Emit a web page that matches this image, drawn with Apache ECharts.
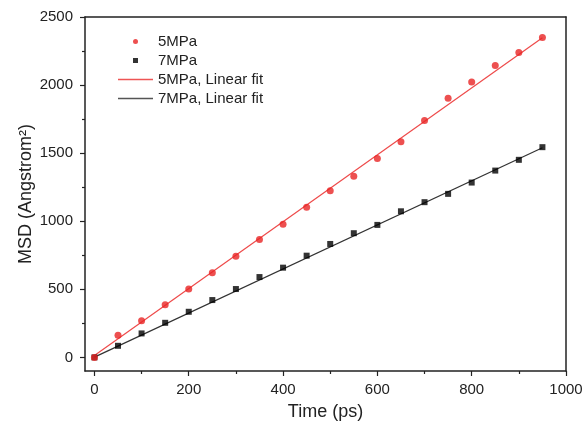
<!DOCTYPE html>
<html>
<head>
<meta charset="utf-8">
<script src="https://cdn.jsdelivr.net/npm/echarts@6/dist/echarts.min.js"></script>
<style>html,body{margin:0;padding:0;background:#fff;}#c{width:583px;height:423px;}</style>
</head>
<body>
<div id="c"></div>
<script>
var times = [0,50,100,150,200,250,300,350,400,450,500,550,600,650,700,750,800,850,900,950];
var msd5 = [0,162,269,387,502,622,743,865,978,1103,1223,1331,1460,1583,1740,1904,2022,2144,2240,2350];
var msd7 = [0,85,176,254,335,421,502,590,659,747,833,912,973,1073,1140,1201,1284,1372,1451,1544];
var fitT = [0,950];
var fit5 = [14,2348];
var fit7 = [2,1540];
var xTicks = [0,200,400,600,800,1000];
var xMinor = [100,300,500,700,900];
var yTicks = [0,500,1000,1500,2000,2500];
var yMinor = [250,750,1250,1750,2250];

function pairs(xs, ys){ return xs.map(function(x,i){ return [x, ys[i]]; }); }
function plain(v){ return String(v); }

var font = 'Liberation Sans, Arial, sans-serif';
var axisColor = '#222';
var red = '#e82424';
var redLine = '#ee4a4a';
var chart = echarts.init(document.getElementById('c'));
chart.setOption({
  animation: false,
  backgroundColor: '#fff',
  grid: {left: 85, top: 17, right: 17, bottom: 52, outerBoundsMode: 'none', containLabel: false},
  legend: {
    orient: 'vertical', left: 113, top: 29,
    itemWidth: 35, itemHeight: 5, itemGap: 4,
    textStyle: {fontFamily: font, fontSize: 15, color: '#222'},
    data: [
      {name: '5MPa', icon: 'circle', itemStyle: {color: red}},
      {name: '7MPa', icon: 'path://M0,0H10V10H0Z', itemStyle: {color: '#000'}},
      {name: '5MPa, Linear fit', icon: 'path://M0,0H35V1.5H0Z',
       itemStyle: {color: '#ee5555', borderWidth: 0}, lineStyle: {color: '#ee5555'}},
      {name: '7MPa, Linear fit', icon: 'path://M0,0H35V1.5H0Z',
       itemStyle: {color: '#555', borderWidth: 0}, lineStyle: {color: '#555'}}
    ]
  },
  xAxis: [
    {type: 'value', min: -20, max: 1000, position: 'bottom',
     name: 'Time (ps)', nameLocation: 'middle', nameGap: 32,
     nameTextStyle: {fontFamily: font, fontSize: 18, color: axisColor},
     axisLine: {show: true, onZero: false, lineStyle: {color: axisColor, width: 1.5}},
     axisTick: {show: true, inside: false, length: 5, customValues: xTicks, lineStyle: {color: axisColor, width: 1.2}},
     axisLabel: {customValues: xTicks, formatter: plain, margin: 11, fontFamily: font, fontSize: 15, color: axisColor},
     splitLine: {show: false}},
    {type: 'value', min: -20, max: 1000, position: 'bottom',
     axisLine: {show: false, onZero: false},
     axisTick: {show: true, length: 3, customValues: xMinor, lineStyle: {color: axisColor, width: 1.2}},
     axisLabel: {show: false}, splitLine: {show: false}},
    {type: 'value', min: -20, max: 1000, position: 'top',
     axisLine: {show: true, onZero: false, lineStyle: {color: axisColor, width: 1.5}},
     axisTick: {show: false}, axisLabel: {show: false}, splitLine: {show: false}}
  ],
  yAxis: [
    {type: 'value', min: -100, max: 2500, position: 'left',
     name: 'MSD (Angstrom²)', nameLocation: 'middle', nameGap: 50, nameMoveOverlap: false,
     nameTextStyle: {fontFamily: font, fontSize: 18, color: axisColor},
     axisLine: {show: true, onZero: false, lineStyle: {color: axisColor, width: 1.5}},
     axisTick: {show: true, inside: false, length: 5, customValues: yTicks, lineStyle: {color: axisColor, width: 1.2}},
     axisLabel: {customValues: yTicks, formatter: plain, margin: 12, fontFamily: font, fontSize: 15, color: axisColor},
     splitLine: {show: false}},
    {type: 'value', min: -100, max: 2500, position: 'left',
     axisLine: {show: false, onZero: false},
     axisTick: {show: true, length: 3, customValues: yMinor, lineStyle: {color: axisColor, width: 1.2}},
     axisLabel: {show: false}, splitLine: {show: false}},
    {type: 'value', min: -100, max: 2500, position: 'right',
     axisLine: {show: true, onZero: false, lineStyle: {color: axisColor, width: 1.5}},
     axisTick: {show: false}, axisLabel: {show: false}, splitLine: {show: false}}
  ],
  series: [
    {name: '5MPa, Linear fit', type: 'line', data: pairs(fitT, fit5), symbol: 'none', showSymbol: false,
     lineStyle: {color: redLine, width: 1.2}, itemStyle: {color: redLine}, z: 2},
    {name: '7MPa, Linear fit', type: 'line', data: pairs(fitT, fit7), symbol: 'none', showSymbol: false,
     lineStyle: {color: '#333', width: 1.2}, itemStyle: {color: '#333'}, z: 2},
    {name: '7MPa', type: 'scatter', data: pairs(times, msd7), symbol: 'rect', symbolSize: 6,
     itemStyle: {color: '#000'}, z: 3},
    {name: '5MPa', type: 'scatter', data: pairs(times, msd5), symbol: 'circle', symbolSize: 7,
     itemStyle: {color: red}, z: 4}
  ]
});
</script>
</body>
</html>
